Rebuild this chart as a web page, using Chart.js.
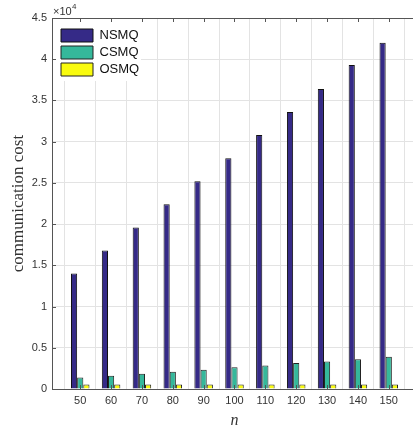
<!DOCTYPE html>
<html>
<head>
<meta charset="utf-8">
<script src="https://cdn.jsdelivr.net/npm/chart.js@4.4.1/dist/chart.umd.min.js"></script>
<style>
  body { margin: 0; background: #fff; overflow: hidden; }
  #wrap { width: 418px; height: 427px; position: relative; }
</style>
</head>
<body>
<div id="wrap"><canvas id="chart"></canvas></div>
<script>
// data
const nValues = [50, 60, 70, 80, 90, 100, 110, 120, 130, 140, 150];
const nsmq = [14000, 16800, 19600, 22400, 25200, 28000, 30800, 33600, 36400, 39300, 42000];
const csmq = [1400, 1600, 1850, 2100, 2350, 2650, 2850, 3150, 3350, 3600, 3900];
const osmq = [560, 560, 560, 560, 560, 560, 560, 560, 560, 560, 560];
const yTicks = [0, 5000, 10000, 15000, 20000, 25000, 30000, 35000, 40000, 45000];

const AXIS = '#555';
const TEXT = '#333';

const pts = (arr) => arr.map((v, i) => ({ x: nValues[i], y: v }));

// MATLAB-like box: top line, inward ticks, exponent label, legend inside the axes
const boxPlugin = {
  id: 'box',
  beforeDraw(chart) {
    // move the legend onto the chart area (it lands at top 0 otherwise)
    const lg = chart.legend, a = chart.chartArea;
    if (!lg) return;
    lg.left = a.left + 5; lg.right = a.right;
    lg.top = a.top + 7; lg.bottom = a.bottom;
    lg.width = lg.right - lg.left; lg.height = lg.bottom - lg.top;
  },
  beforeDatasetsDraw(chart) {
    const lg = chart.legend;
    if (!lg) return;
    const ctx = chart.ctx;
    const a = chart.chartArea;
    ctx.save();
    ctx.fillStyle = '#fff';
    ctx.fillRect(a.left + 1, a.top + 1, 88, 62);
    ctx.restore();
    lg.draw();
  },
  afterDraw(chart) {
    const { ctx, chartArea: a, scales } = chart;
    ctx.save();
    ctx.strokeStyle = AXIS;
    ctx.lineWidth = 1;
    ctx.beginPath();
    ctx.moveTo(a.left, a.top + 0.5);
    ctx.lineTo(a.right, a.top + 0.5);
    nValues.forEach((n) => {
      const x = Math.round(scales.x.getPixelForValue(n)) + 0.5;
      ctx.moveTo(x, a.top);
      ctx.lineTo(x, a.top + 4);
      ctx.moveTo(x, a.bottom);
      ctx.lineTo(x, a.bottom - 4);
    });
    yTicks.forEach((v) => {
      const y = Math.round(scales.y.getPixelForValue(v)) + 0.5;
      ctx.moveTo(a.left, y);
      ctx.lineTo(a.left + 4, y);
    });
    ctx.stroke();
    ctx.fillStyle = TEXT;
    ctx.font = '11px "Liberation Sans", Arial, sans-serif';
    ctx.textBaseline = 'alphabetic';
    ctx.fillText('\u00d710', a.left + 1, a.top - 3);
    ctx.font = '8px "Liberation Sans", Arial, sans-serif';
    ctx.fillText('4', a.left + 20, a.top - 9);
    ctx.restore();
  }
};

new Chart(document.getElementById('chart'), {
  type: 'bar',
  data: {
    datasets: [
      { label: 'NSMQ', data: pts(nsmq), backgroundColor: '#352a87', borderColor: '#111', borderWidth: 1 },
      { label: 'CSMQ', data: pts(csmq), backgroundColor: '#35b89b', borderColor: '#222', borderWidth: 1 },
      { label: 'OSMQ', data: pts(osmq), backgroundColor: '#f9fb0e', borderColor: '#222', borderWidth: 1 },
    ],
  },
  options: {
    responsive: true,
    maintainAspectRatio: false,
    animation: false,
    events: [],
    layout: { padding: { top: 18, right: 1, left: 0, bottom: 0 } },
    datasets: { bar: { categoryPercentage: 0.6, barPercentage: 1 } },
    plugins: {
      tooltip: { enabled: false },
      legend: {
        position: 'chartArea',
        align: 'start',
        labels: {
          boxWidth: 32,
          boxHeight: 13,
          padding: 4,
          color: '#111',
          font: { family: '"Liberation Sans", Arial, sans-serif', size: 13, lineHeight: 1 },
        },
      },
    },
    scales: {
      x: {
        type: 'linear',
        min: 40.85,
        max: 159.15,
        offset: false,
        afterFit: (s) => { s.height = 38; },
        afterBuildTicks: (s) => { s.ticks = nValues.map((v) => ({ value: v })); },
        grid: { color: '#e3e3e3', drawTicks: false },
        border: { color: AXIS },
        ticks: {
          padding: 5,
          color: TEXT,
          font: { family: '"Liberation Sans", Arial, sans-serif', size: 11 },
        },
        title: {
          display: true,
          text: 'n',
          color: TEXT,
          padding: { top: 0, bottom: 0 },
          font: { family: '"Liberation Serif", "Times New Roman", serif', size: 16, style: 'italic', lineHeight: 0.8 },
        },
      },
      y: {
        min: 0,
        max: 45000,
        afterFit: (s) => { s.width = 52; },
        afterBuildTicks: (s) => { s.ticks = yTicks.map((v) => ({ value: v })); },
        grid: { color: '#e3e3e3', drawTicks: false },
        border: { color: AXIS },
        ticks: {
          padding: 5,
          color: TEXT,
          font: { family: '"Liberation Sans", Arial, sans-serif', size: 11 },
          callback: (v) => String(v / 10000),
        },
        title: {
          display: true,
          text: 'communication cost',
          color: TEXT,
          padding: { top: 10, bottom: 0 },
          font: { family: '"Liberation Serif", "Times New Roman", serif', size: 17, lineHeight: 1 },
        },
      },
    },
  },
  plugins: [boxPlugin],
});
</script>
</body>
</html>
